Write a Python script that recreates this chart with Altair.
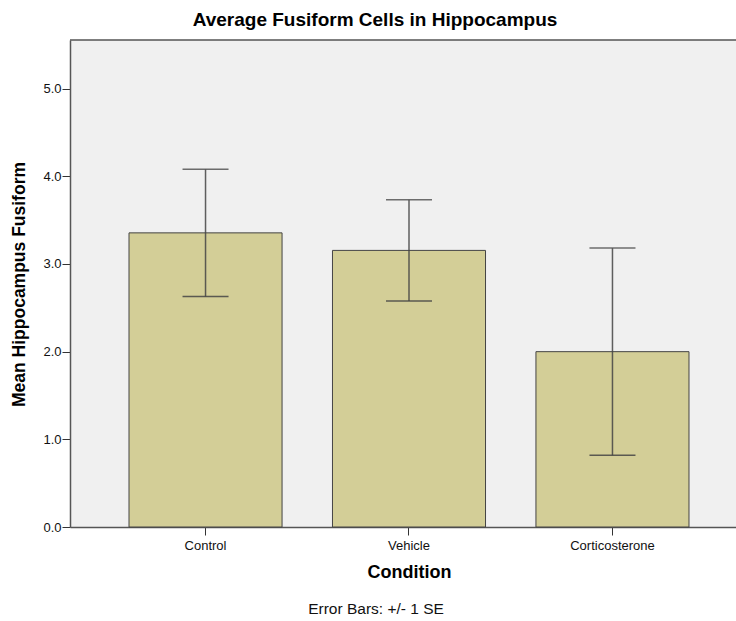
import altair as alt
import pandas as pd

conditions = ["Control", "Vehicle", "Corticosterone"]
means = [3.355, 3.155, 2.0]
ses = [0.727, 0.577, 1.182]

df = pd.DataFrame({
    "Condition": conditions,
    "mean": means,
    "se": ses,
})
df["lo"] = df["mean"] - df["se"]
df["hi"] = df["mean"] + df["se"]

FONT = "Arial, Liberation Sans, sans-serif"
W, H = 666, 487
YMAX = 5.555

x_enc = alt.X(
    "Condition:N",
    sort=conditions,
    scale=alt.Scale(range=[0, 678], paddingInner=0.2478, paddingOuter=0.29),
    axis=alt.Axis(
        title="Condition",
        labelAngle=0,
        labelFontSize=13,
        labelColor="#111",
        labelFont=FONT,
        labelPadding=4,
        tickSize=8,
        tickColor="#333",
        domainColor="#555",
        domainWidth=1.5,
        titleFont=FONT,
        titleFontSize=18,
        titleFontWeight="bold",
        titleColor="#000",
        titleBaseline="middle",
        titleY=45.5,
        titleX=339,
        grid=False,
    ),
)

y_scale = alt.Scale(domain=[0, YMAX], nice=False, zero=True)
y_axis = alt.Axis(
    title="Mean Hippocampus Fusiform",
    values=[0, 1, 2, 3, 4, 5],
    format=".1f",
    labelFontSize=13,
    labelColor="#111",
    labelFont=FONT,
    labelPadding=1,
    tickSize=8,
    tickColor="#333",
    domainColor="#555",
    domainWidth=1.5,
    titleFont=FONT,
    titleFontSize=17.5,
    titleFontWeight="bold",
    titleColor="#000",
    titleAngle=270,
    titleAlign="center",
    titleBaseline="middle",
    titleX=-50.5,
    titleY=244,
    grid=False,
)

base = alt.Chart(df)

bars = base.mark_bar(fill="#D3CE97", stroke="#444", strokeWidth=1).encode(
    x=x_enc,
    y=alt.Y("mean:Q", scale=y_scale, axis=y_axis),
)

err = base.mark_rule(color="#444", strokeWidth=1.5, opacity=0.85).encode(
    x=alt.X("Condition:N", sort=conditions),
    y=alt.Y("lo:Q"),
    y2="hi:Q",
)

cap_hi = base.mark_tick(color="#555", size=46, thickness=1.5, opacity=0.85).encode(
    x=alt.X("Condition:N", sort=conditions),
    y=alt.Y("hi:Q"),
)
cap_lo = base.mark_tick(color="#444", size=46, thickness=1.5, opacity=0.85).encode(
    x=alt.X("Condition:N", sort=conditions),
    y=alt.Y("lo:Q"),
)

top_border = alt.Chart(pd.DataFrame({"a": [0]})).mark_rule(
    color="#555", strokeWidth=1.5
).encode(x=alt.value(0), x2=alt.value(W), y=alt.value(0))

title_txt = alt.Chart(pd.DataFrame({"t": ["Average Fusiform Cells in Hippocampus"]})).mark_text(
    font=FONT, fontSize=19, fontWeight="bold", color="#000", align="center", baseline="alphabetic"
).encode(text="t:N", x=alt.value(305), y=alt.value(-14))

note_txt = alt.Chart(pd.DataFrame({"t": ["Error Bars: +/- 1 SE"]})).mark_text(
    font=FONT, fontSize=15.5, color="#111", align="center", baseline="alphabetic"
).encode(text="t:N", x=alt.value(306), y=alt.value(574))

chart = alt.layer(bars, err, cap_hi, cap_lo, top_border, title_txt, note_txt).properties(
    width=W,
    height=H,
    autosize=alt.AutoSizeParams(type="none"),
    padding={"left": 70, "top": 40, "right": 0, "bottom": 94},
    background="white",
).configure_view(
    fill="#F0F0F0",
    stroke=None,
)

chart.save("out.html", embed_options={"renderer": "svg", "actions": False})
